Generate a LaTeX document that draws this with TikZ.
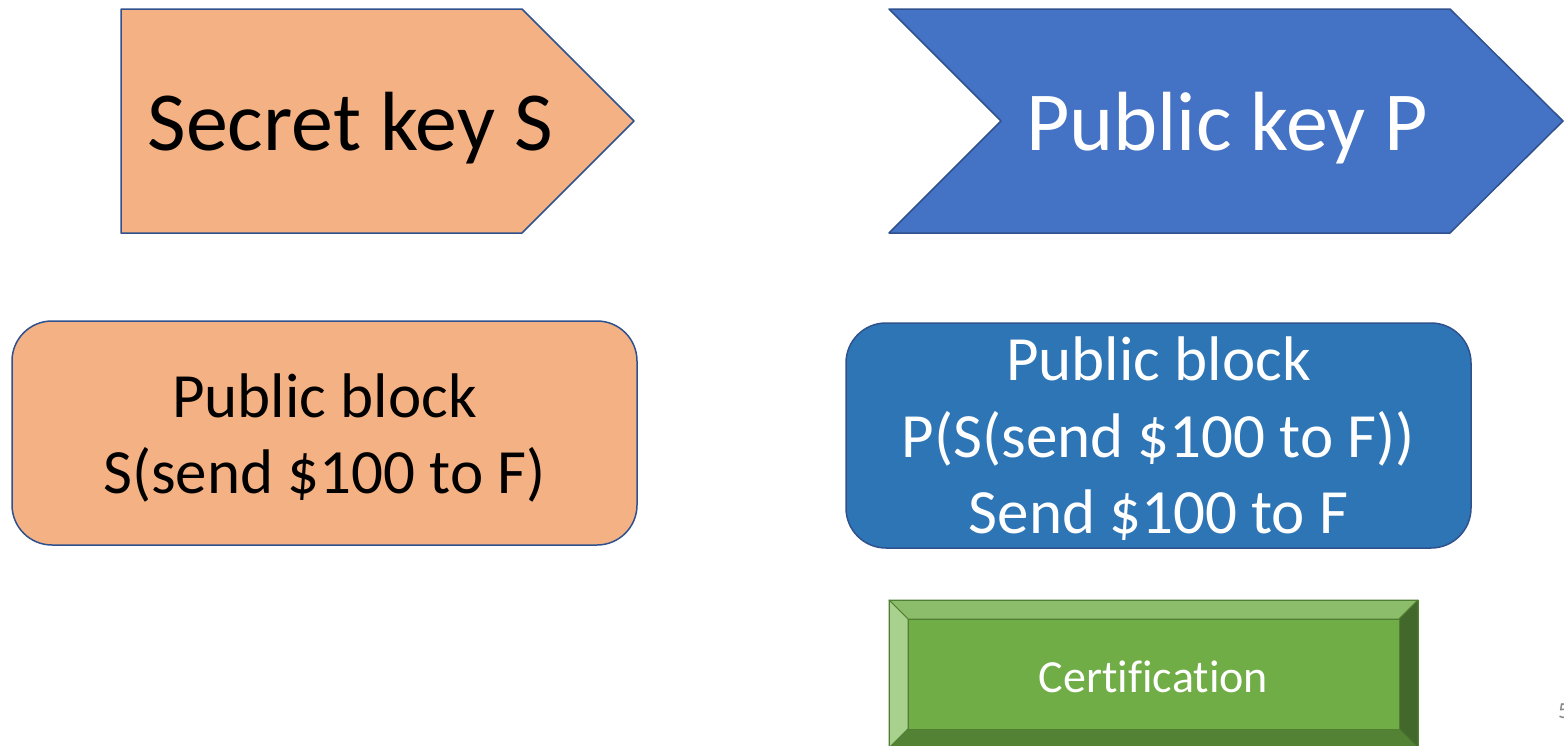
\documentclass[tikz,border=0pt]{standalone}
\usepackage{fontspec}
\setmainfont{Carlito}[Ligatures={NoCommon}]
\definecolor{peach}{HTML}{F4B183}
\definecolor{edgeblue}{HTML}{2F528F}
\definecolor{chevblue}{HTML}{4472C4}
\definecolor{blockblue}{HTML}{2E75B6}
\definecolor{gface}{HTML}{70AD47}
\definecolor{gtop}{HTML}{8CBD6A}
\definecolor{gleft}{HTML}{A9D18E}
\definecolor{gright}{HTML}{43682B}
\definecolor{gbottom}{HTML}{548235}
\definecolor{gedge}{HTML}{507E32}
\definecolor{pgnum}{HTML}{898989}
\tikzset{
  shapeline/.style={draw=edgeblue, line width=1.5pt, line join=round},
  bigtext/.style={inner sep=0pt, anchor=base, font=\fontsize{84}{100}\selectfont},
  blocktext/.style={inner sep=0pt, anchor=base, font=\fontsize{63}{76}\selectfont},
  certtext/.style={inner sep=0pt, anchor=base, font=\fontsize{46}{56}\selectfont, text=white},
  bevelpart/.style={draw=gedge, line width=0.8pt, line join=round}
}
\begin{document}
\begin{tikzpicture}[x=1pt, y=-1pt]
\useasboundingbox (0,0) rectangle (1564,745);
% Secret key pentagon
\draw[shapeline, fill=peach] (121,9) -- (522,9) -- (634,121) -- (522,233) -- (121,233) -- cycle;
\node[bigtext, text=black] (secret) at (350,150) {Secret key S};
% Public key chevron
\draw[shapeline, fill=chevblue] (889,9) -- (1450,9) -- (1563,121) -- (1450,233) -- (889,233) -- (1001,121) -- cycle;
\node[bigtext, text=white] (public) at (1227,150) {Public key P};
% Left block
\draw[shapeline, fill=peach, rounded corners=40pt] (12,321) rectangle (637,545);
\node[blocktext, text=black] (lb1) at (324.5,417) {Public block};
\node[blocktext, text=black] (lb2) at (324.5,493) {S(send \$100 to F)};
% Right block
\draw[shapeline, fill=blockblue, rounded corners=40pt] (846,323) rectangle (1471,548);
\node[blocktext, text=white] (rb1) at (1158.5,380) {Public block};
\node[blocktext, text=white] (rb2) at (1158.5,457) {P(S(send \$100 to F))};
\node[blocktext, text=white] (rb3) at (1158.5,533) {Send \$100 to F};
% Certification bevel
\fill[gface] (889,600) rectangle (1418,748);
\draw[bevelpart, fill=gtop] (889,600) -- (1418,600) -- (1399,619) -- (908,619) -- cycle;
\draw[bevelpart, fill=gleft] (889,600) -- (908,619) -- (908,729) -- (889,748) -- cycle;
\draw[bevelpart, fill=gright] (1418,600) -- (1418,748) -- (1399,729) -- (1399,619) -- cycle;
\draw[bevelpart, fill=gbottom] (889,748) -- (908,729) -- (1399,729) -- (1418,748) -- cycle;
\draw[bevelpart, fill=gface] (908,619) rectangle (1399,729);
\draw[draw=gedge, line width=1pt] (889,600) rectangle (1418,748);
\node[certtext] (cert) at (1153.5,692) {Certification};
% page number (cut off at the edge, as in the reference)
\node[inner sep=0pt, anchor=base west, text=pgnum, font=\fontsize{23}{28}\selectfont] (pnum) at (1558,718) {5};
\end{tikzpicture}
\end{document}
